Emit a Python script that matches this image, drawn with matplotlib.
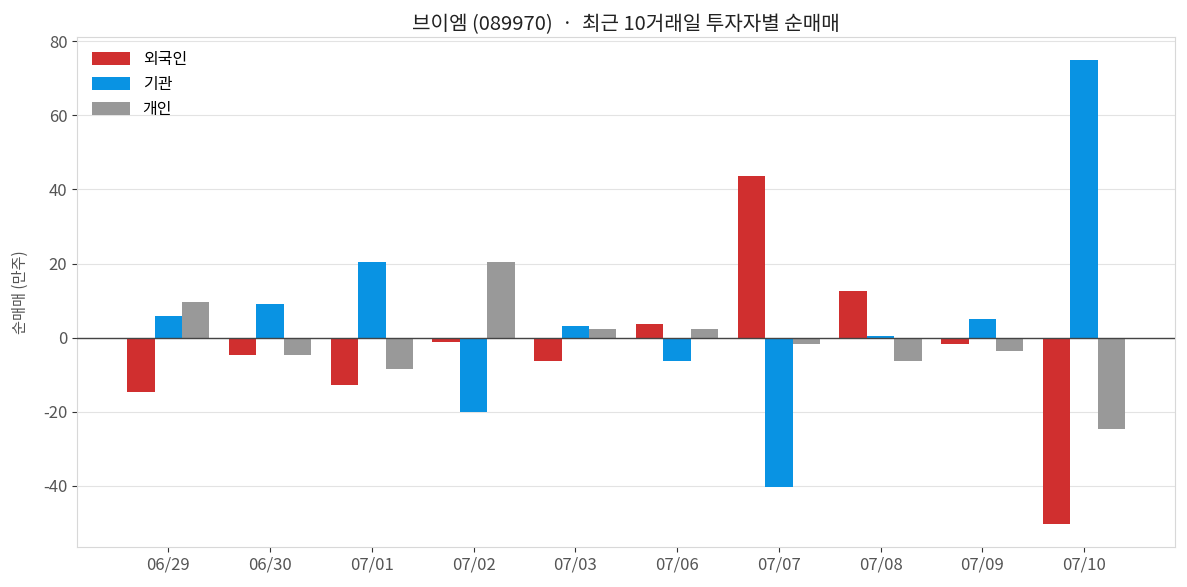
import numpy as np
import matplotlib
matplotlib.use("Agg")
import matplotlib.pyplot as plt

plt.rcParams['font.family'] = ['Noto Sans CJK KR', 'DejaVu Sans']
plt.rcParams['axes.unicode_minus'] = False

dates = ["06/29", "06/30", "07/01", "07/02", "07/03", "07/06", "07/07", "07/08", "07/09", "07/10"]
foreign = [-14.6, -4.6, -12.7, -1.1, -6.2, 3.8, 43.5, 12.7, -1.6, -50.3]
institution = [5.7, 9.2, 20.3, -20.0, 3.2, -6.2, -40.3, 0.3, 4.9, 74.9]
individual = [9.5, -4.6, -8.4, 20.3, 2.4, 2.2, -1.6, -6.2, -3.5, -24.6]

series_names = ["외국인", "기관", "개인"]
colors = ["#d02f2f", "#0993e3", "#999999"]

fig = plt.figure(figsize=(11.87, 5.87), dpi=100)
ax = fig.add_axes([0.065, 0.068, 0.925, 0.869])

x = np.arange(len(dates))
w = 0.27
for i, (vals, name, c) in enumerate(zip([foreign, institution, individual], series_names, colors)):
    ax.bar(x + (i - 1) * w, vals, w, color=c, label=name, zorder=2)

ax.axhline(0, color="#444444", linewidth=1, zorder=3)
ax.grid(axis="y", color="#e3e3e3", linewidth=0.8, zorder=0)
ax.set_axisbelow(True)

ax.set_xticks(x)
ax.set_xticklabels(dates)
ax.tick_params(axis="both", colors="#333333", labelcolor="#555555", labelsize=12)
ax.set_yticks([-40, -20, 0, 20, 40, 60, 80])

for s in ax.spines.values():
    s.set_color("#d8d8d8")

ax.set_ylabel("순매매 (만주)", fontsize=11, color="#555555", labelpad=10)
ax.set_title("브이엠 (089970)  ·  최근 10거래일 투자자별 순매매", fontsize=14.5, color="#222222", pad=5)

ax.legend(loc="upper left", frameon=False, fontsize=11.5, handlelength=2.4, handleheight=0.9)

fig.savefig("out.png", dpi=100)
